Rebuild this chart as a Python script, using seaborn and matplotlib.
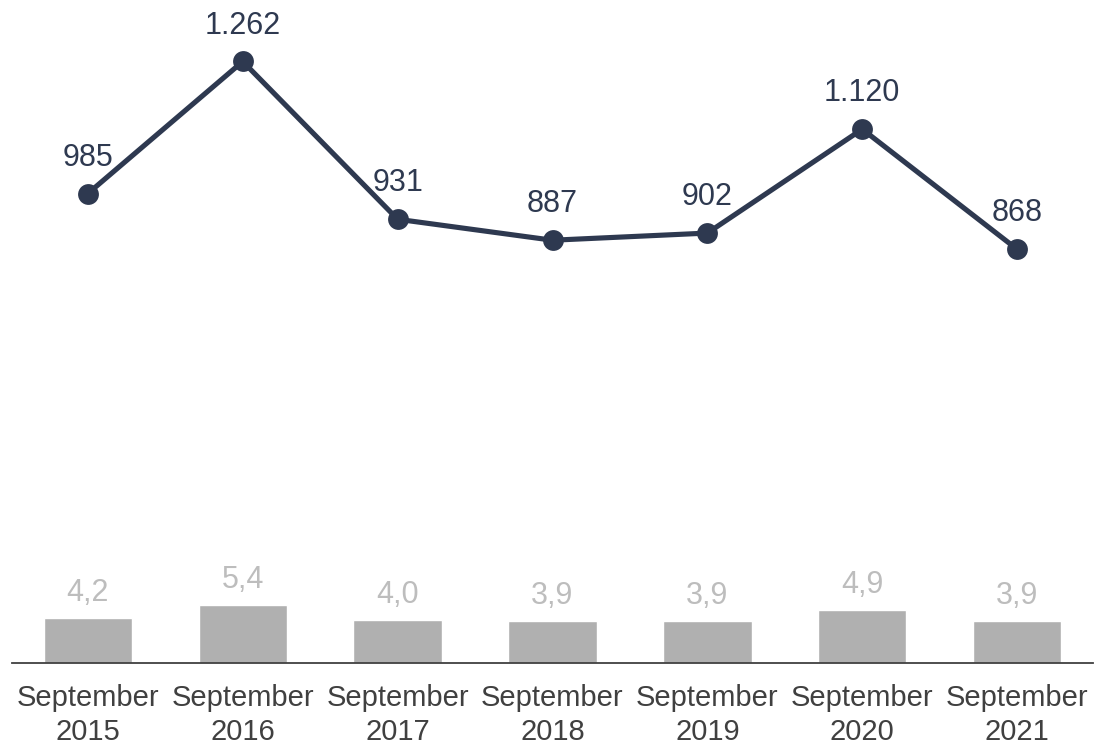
import numpy as np
import pandas as pd
import matplotlib
matplotlib.use("Agg")
import matplotlib.pyplot as plt
import seaborn as sns

categories = ["September\n2015", "September\n2016", "September\n2017", "September\n2018",
              "September\n2019", "September\n2020", "September\n2021"]
line_values = [985, 1262, 931, 887, 902, 1120, 868]
bar_values = [4.2, 5.4, 4.0, 3.9, 3.9, 4.9, 3.9]

LINE_COLOR = "#2E3950"
BAR_COLOR = "#B0B0B0"
BAR_LABEL_COLOR = "#BDBDBD"
TEXT_COLOR = "#404040"

sns.set_theme(style="white")
plt.rcParams["font.family"] = ["Liberation Sans", "DejaVu Sans"]

fig = plt.figure(figsize=(10.95, 7.47), dpi=100)
ax = fig.add_axes([12 / 1095, (747 - 663) / 747, (1093 - 12) / 1095, 663 / 747])

df = pd.DataFrame({"cat": categories, "bar": bar_values, "line": line_values, "pos": np.arange(len(categories))})

sns.barplot(data=df, x="cat", y="bar", color=BAR_COLOR, width=0.57, ax=ax, saturation=1)
ax.set_ylim(0, 61.4)
ax.set_xlim(-0.49, len(categories) - 0.51)

for i, v in enumerate(bar_values):
    ax.annotate(f"{v:.1f}".replace(".", ","), (i, v), xytext=(0, 7), textcoords="offset points",
                ha="center", va="bottom", fontsize=22, color=BAR_LABEL_COLOR)

ax2 = ax.twinx()
sns.lineplot(data=df, x="pos", y="line", color=LINE_COLOR, linewidth=3.7, marker="o",
             markersize=15, markeredgewidth=0, ax=ax2)
ax2.set_ylim(0, 1391)
ax2.set_xlim(-0.49, len(categories) - 0.51)

for i, v in enumerate(line_values):
    txt = f"{v:,}".replace(",", ".")
    ax2.annotate(txt, (i, v), xytext=(0, 15), textcoords="offset points",
                 ha="center", va="bottom", fontsize=22, color=LINE_COLOR)

for a in (ax, ax2):
    a.set_xlabel("")
    a.set_ylabel("")
    a.set_yticks([])
    for s in ["top", "left", "right"]:
        a.spines[s].set_visible(False)
ax2.spines["bottom"].set_visible(False)
ax2.tick_params(axis="x", which="both", length=0, labelbottom=False)

ax.spines["bottom"].set_color(TEXT_COLOR)
ax.spines["bottom"].set_linewidth(1.3)
ax.set_xticks(range(len(categories)))
ax.set_xticklabels(categories, fontsize=21, color=TEXT_COLOR, linespacing=1.3)
ax.tick_params(axis="x", length=0, pad=15)

fig.savefig("out.png", dpi=100)
